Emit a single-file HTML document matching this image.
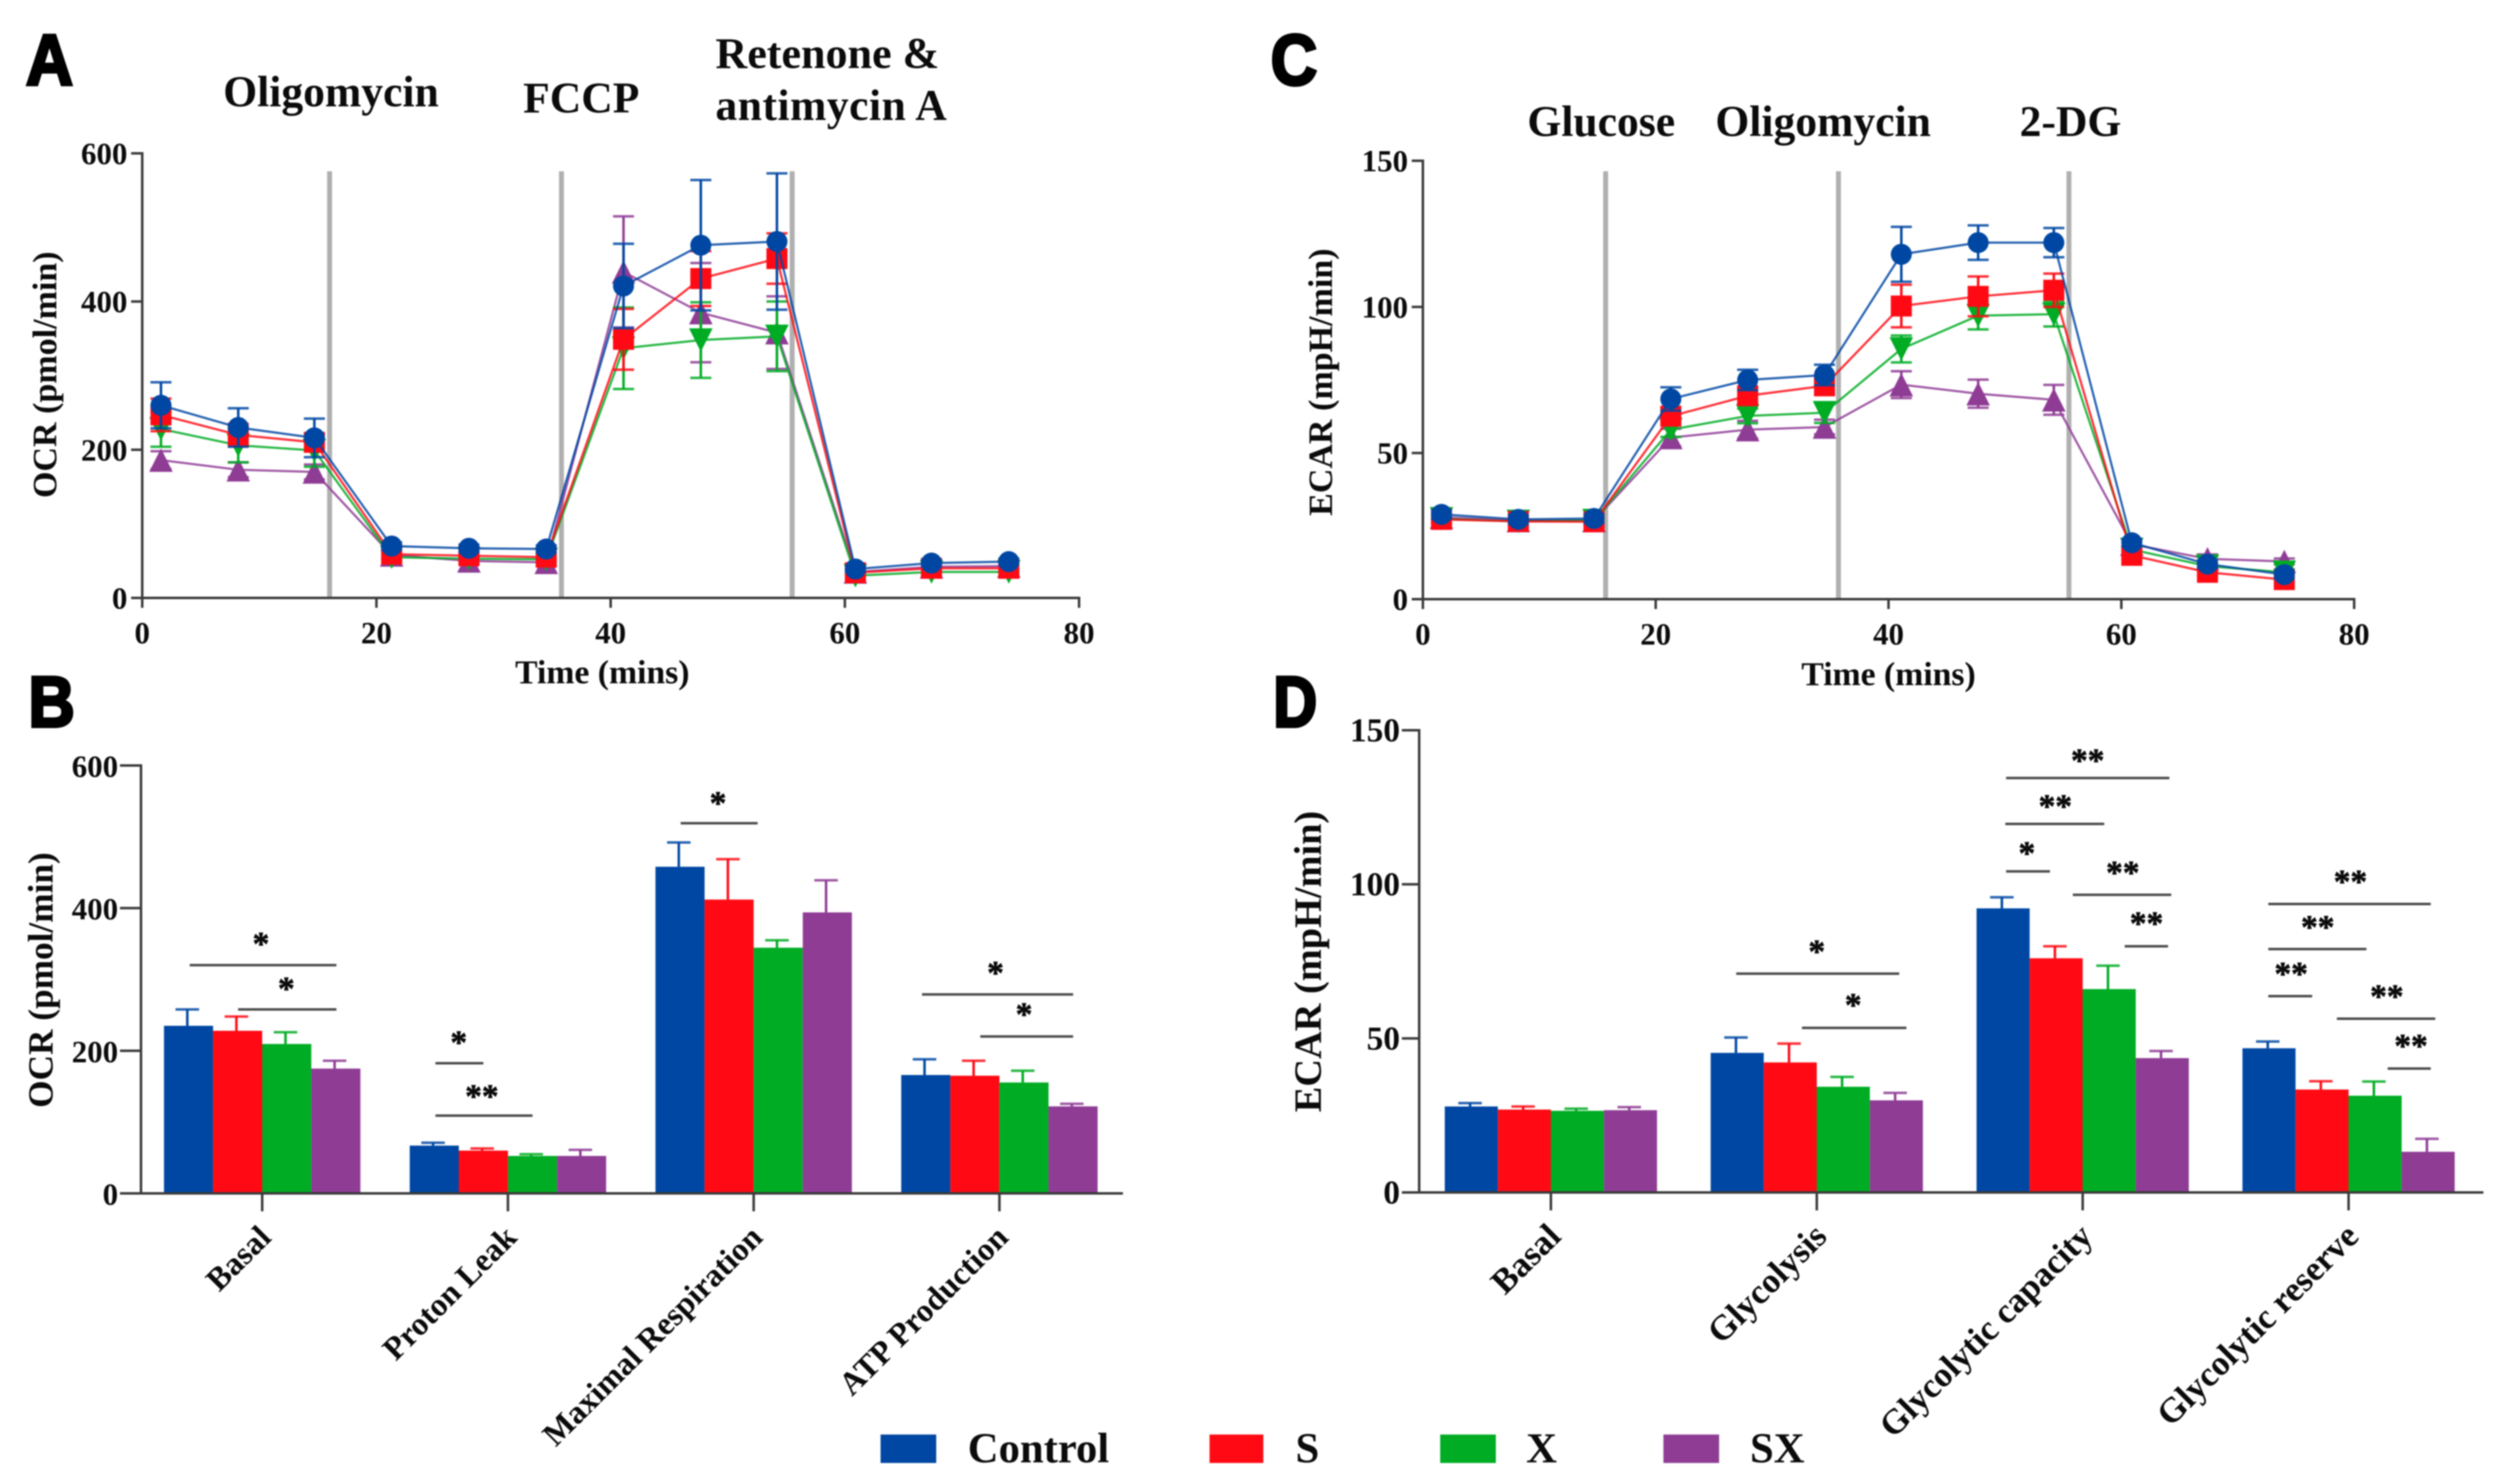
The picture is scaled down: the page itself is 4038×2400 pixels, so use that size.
<!DOCTYPE html>
<html lang="en">
<head>
<meta charset="utf-8">
<title>OCR and ECAR metabolic profiles</title>
<style>
html,body{margin:0;padding:0;background:#fff;width:4038px;height:2400px;overflow:hidden}
svg{display:block;filter:blur(1.1px)}
text{font-family:"Liberation Serif",serif;font-weight:bold;fill:#0b0b0b}
.panel-letter{font-family:"Liberation Sans",sans-serif;font-size:116px;stroke:#000;stroke-width:5px;fill:#000}
.drug{font-size:70.5px}
.tick{font-size:50px}
.tick-lg{font-size:54px}
.axis-title{font-size:54.5px}
.cat{font-size:54px}
.legend-text{font-size:69px}
.star{font-size:54px;stroke:#0b0b0b;stroke-width:1px}
</style>
</head>
<body>
<svg id="figure" xmlns="http://www.w3.org/2000/svg" width="4038" height="2400" viewBox="0 0 4038 2400">
  <rect width="4038" height="2400" fill="#fff"/>

  <text class="panel-letter" x="42" y="137" textLength="76" lengthAdjust="spacingAndGlyphs">A</text>
  <text class="panel-letter" x="46" y="1175" textLength="75" lengthAdjust="spacingAndGlyphs">B</text>
  <text class="panel-letter" x="2055" y="137" textLength="75" lengthAdjust="spacingAndGlyphs">C</text>
  <text class="panel-letter" x="2059" y="1175" textLength="71" lengthAdjust="spacingAndGlyphs">D</text>

  <text class="drug" x="361" y="172">Oligomycin</text>
  <text class="drug" x="846" y="182">FCCP</text>
  <text class="drug" x="1157" y="110" textLength="362" lengthAdjust="spacingAndGlyphs">Retenone &amp;</text>
  <text class="drug" x="1157" y="194" textLength="374" lengthAdjust="spacing">antimycin A</text>
  <text class="drug" x="2470" y="220">Glucose</text>
  <text class="drug" x="2774" y="220">Oligomycin</text>
  <text class="drug" x="3266" y="220">2-DG</text>

  <text class="axis-title" style="font-size:55px" text-anchor="middle" transform="translate(91,606) rotate(-90)">OCR (pmol/min)</text>
  <text class="axis-title" text-anchor="middle" x="974" y="1105">Time (mins)</text>
  <text class="axis-title" style="font-size:55px" text-anchor="middle" transform="translate(2154,618) rotate(-90)">ECAR (mpH/min)</text>
  <text class="axis-title" text-anchor="middle" x="3054" y="1108">Time (mins)</text>
  <text class="axis-title" style="font-size:57px" text-anchor="middle" transform="translate(85,1585) rotate(-90)">OCR (pmol/min)</text>
  <text class="axis-title" style="font-size:62px" text-anchor="middle" transform="translate(2136,1555) rotate(-90)">ECAR (mpH/min)</text>

  <g id="panel-a"></g>
  <g id="panel-c"></g>
  <g id="panel-b"></g>
  <g id="panel-d"></g>

  <g>
    <rect x="1424" y="2320" width="90" height="46" fill="#0047a3"/>
    <text class="legend-text" x="1565" y="2365">Control</text>
    <rect x="1956" y="2320" width="87" height="46" fill="#ff0a14"/>
    <text class="legend-text" x="2095" y="2365">S</text>
    <rect x="2329" y="2320" width="90" height="46" fill="#00ac23"/>
    <text class="legend-text" x="2468" y="2365">X</text>
    <rect x="2690" y="2320" width="90" height="46" fill="#8f3c95"/>
    <text class="legend-text" x="2830" y="2365">SX</text>
  </g>
</svg>

<script>
// ---- shared ticks ----
const timeTicks = [0, 20, 40, 60, 80];
const ocrTicks = [0, 200, 400, 600];
const ecarTicks = [0, 50, 100, 150];
const timeMins = [1.6, 8.2, 14.7, 21.3, 27.9, 34.5, 41.1, 47.7, 54.2, 60.9, 67.4, 74];

// ---- panel A: OCR over time ----
const ocrInjections = [16, 35.8, 55.5];
const ocrControlMean = [260, 230, 216, 70, 67, 66, 421, 476, 481, 39, 47, 49];
const ocrControlErr = [31, 26, 26, 5, 5, 5, 57, 88, 92, 4, 4, 4];
const ocrSMean = [247, 220, 210, 59, 57, 55, 349, 431, 458, 34, 40, 40];
const ocrSErr = [22, 15, 12, 6, 5, 5, 41, 37, 34, 5, 4, 4];
const ocrXMean = [228, 206, 199, 55, 53, 52, 337, 348, 353, 30, 35, 35];
const ocrXErr = [24, 23, 22, 5, 5, 5, 55, 51, 47, 5, 4, 4];
const ocrSXMean = [186, 173, 170, 58, 50, 48, 440, 385, 358, 35, 42, 43];
const ocrSXErr = [12, 10, 10, 5, 5, 5, 75, 67, 49, 4, 4, 4];

// ---- panel C: ECAR over time ----
const ecarInjections = [15.7, 35.7, 55.5];
const ecarControlMean = [29, 27.3, 27.6, 68.5, 75, 76.7, 118, 122, 122, 19.3, 12, 8.4];
const ecarControlErr = [1.5, 1.5, 1.5, 4, 3.5, 3.5, 9.4, 5.9, 5, 1.3, 1.3, 1.3];
const ecarSMean = [27.3, 26.6, 26.5, 62.6, 69.6, 73, 100.3, 103.6, 105.7, 15, 9.2, 6.7];
const ecarSErr = [1.3, 1.3, 1.3, 3, 3, 3, 7.3, 6.8, 5.7, 1.3, 1.3, 1.2];
const ecarXMean = [27.5, 26.6, 26.9, 58, 62.7, 63.8, 85.6, 97, 97.5, 17, 11.3, 9.2];
const ecarXErr = [1, 1, 1, 2.5, 2.5, 3.5, 4.6, 4.7, 4.2, 1, 1, 1];
const ecarSXMean = [28, 26.9, 26.9, 55.3, 58, 58.9, 73.4, 70.3, 68.2, 18.8, 13.8, 12.9];
const ecarSXErr = [1, 1, 1, 3, 3, 2.5, 4.6, 4.8, 5.1, 1, 1.5, 1];

// ---- panel B: OCR parameters ----
const ocrCategories = ['Basal', 'Proton Leak', 'Maximal Respiration', 'ATP Production'];
const ocrBarControl = [235, 67, 458, 166];
const ocrBarS = [228, 60, 412, 165];
const ocrBarX = [209.5, 52.5, 344.5, 155.5];
const ocrBarSX = [175, 52.5, 394, 122];
const ocrTopControl = [258, 71, 492, 188];
const ocrTopS = [248, 63, 468.6, 186];
const ocrTopX = [226, 55, 355, 172];
const ocrTopSX = [186, 61, 439, 125.6];
// significance: from category, to category, value level, star text level, star category, label
const ocrSigFrom = [-0.295, -0.098, 0.705, 0.705, 1.703, 2.685, 2.922];
const ocrSigTo = [0.302, 0.302, 0.9, 1.1, 2.016, 3.3, 3.3];
const ocrSigLevel = [320, 258, 182.5, 109, 519, 279, 220];
const ocrSigStarAt = [-0.005, 0.098, 0.8, 0.894, 1.855, 2.984, 3.1];
const ocrSigStarLevel = [356, 293, 217.5, 142, 553, 315, 257];
const ocrSigLabels = ['*', '*', '*', '**', '*', '*', '*'];

// ---- panel D: ECAR parameters ----
const ecarCategories = ['Basal', 'Glycolysis', 'Glycolytic capacity', 'Glycolytic reserve'];
const ecarBarControl = [27.9, 45.3, 92.2, 46.8];
const ecarBarS = [26.9, 42.2, 76, 33.4];
const ecarBarX = [26.5, 34.3, 66, 31.4];
const ecarBarSX = [26.7, 29.9, 43.6, 13.2];
const ecarTopControl = [29, 50.3, 95.8, 49];
const ecarTopS = [27.9, 48.3, 79.9, 36.1];
const ecarTopX = [27.2, 37.5, 73.6, 36];
const ecarTopSX = [27.7, 32.3, 45.9, 17.4];
const ecarSigFrom = [0.697, 0.944, 1.712, 1.709, 1.712, 1.963, 2.158, 2.698, 2.698, 2.698, 2.956, 3.147];
const ecarSigTo = [1.31, 1.337, 2.326, 2.081, 1.877, 2.333, 2.321, 3.309, 3.067, 2.863, 3.326, 3.309];
const ecarSigLevel = [71, 53.4, 134.5, 119.6, 104.2, 96.6, 79.9, 93.6, 79, 63.7, 56.4, 40.2];
const ecarSigStarAt = [1, 1.137, 2.019, 1.897, 1.79, 2.151, 2.24, 3.007, 2.884, 2.784, 3.144, 3.235];
const ecarSigStarLevel = [79.6, 62.2, 141.6, 126.7, 111.5, 105.2, 88.7, 102.2, 87.5, 72.3, 65, 49];
const ecarSigLabels = ['*', '*', '**', '**', '*', '**', '**', '**', '**', '**', '**', '**'];

const groupColor = { control: '#0047a3', s: '#ff0a14', x: '#00ac23', sx: '#8f3c95' };
const axisColor = '#3a3a3a';
const SVGNS = 'http://www.w3.org/2000/svg';

function mk(parent, tag, attrs, txt) {
  const el = document.createElementNS(SVGNS, tag);
  for (const k in attrs) el.setAttribute(k, attrs[k]);
  if (txt !== undefined) el.textContent = txt;
  parent.appendChild(el);
  return el;
}
function linear(d0, d1, r0, r1) {
  return function (v) { return r0 + (v - d0) * (r1 - r0) / (d1 - d0); };
}

function drawYAxis(g, ticks, y, axisX, tickX, labelX, labelClass, labelDy) {
  const top = y(ticks[ticks.length - 1]);
  const bottom = y(ticks[0]);
  const line = mk(g, 'line', { x1: axisX, x2: axisX, y1: top - 2, y2: bottom + 2, stroke: axisColor, 'stroke-width': 4 });
  
  
  ticks.forEach(function (t) {
    const mark = mk(g, 'line', { x1: tickX, x2: axisX, y1: y(t), y2: y(t), stroke: axisColor, 'stroke-width': 4 });
    
    
    const lab = mk(g, 'text', { class: labelClass, x: labelX, y: y(t) + labelDy, 'text-anchor': 'end' }, String(t));
    
    
  });
}

function drawMarker(g, shape, cx, cy, color) {
  const s = 17;
  const t = 19;
  let m;
  if (shape === 'circle') {
    m = mk(g, 'circle', { cx: cx, cy: cy, r: s, fill: color });
  } else if (shape === 'square') {
    m = mk(g, 'rect', { x: cx - s, y: cy - s, width: 2 * s, height: 2 * s, fill: color });
  } else if (shape === 'up') {
    m = mk(g, 'polygon', { points: (cx - t) + ',' + (cy + t) + ' ' + (cx + t) + ',' + (cy + t) + ' ' + cx + ',' + (cy - t), fill: color });
  } else {
    m = mk(g, 'polygon', { points: (cx - t) + ',' + (cy - t) + ' ' + (cx + t) + ',' + (cy - t) + ' ' + cx + ',' + (cy + t), fill: color });
  }
  
  
}

function drawLineChart(root, cfg) {
  const x = linear(0, 80, cfg.x0, cfg.x80);
  const y = linear(cfg.yTicks[0], cfg.yTicks[cfg.yTicks.length - 1], cfg.y0, cfg.yTop);

  cfg.injections.forEach(function (t) {
    const v = mk(root, 'line', { x1: x(t), x2: x(t), y1: cfg.injTop, y2: cfg.y0, stroke: '#b0b0b0', 'stroke-width': 8 });
    
    
  });

  cfg.series.forEach(function (s) {
    const g = mk(root, 'g', {});
    
    
    s.errors.forEach(function (e, i) {
      const cx = x(timeMins[i]);
      const up = y(s.values[i] + e);
      const lo = y(s.values[i] - e);
      const stem = mk(g, 'line', { x1: cx, x2: cx, y1: up, y2: lo, stroke: s.color, 'stroke-width': 4 });
      
      
      [up, lo].forEach(function (cy) {
        const cap = mk(g, 'line', { x1: cx - 17, x2: cx + 17, y1: cy, y2: cy, stroke: s.color, 'stroke-width': 4, opacity: 0.85 });
        
        
      });
    });
    const pts = s.values.map(function (v, i) { return x(timeMins[i]) + ',' + y(v); }).join(' ');
    const path = mk(g, 'polyline', { points: pts, fill: 'none', stroke: s.color, 'stroke-width': 3.5, opacity: 0.85 });
    
    
    s.values.forEach(function (v, i) {
      drawMarker(g, s.shape, x(timeMins[i]), y(v), s.color);
    });
  });

  const xLine = mk(root, 'line', { x1: cfg.x0 - 2, x2: cfg.x80 + 2, y1: cfg.y0, y2: cfg.y0, stroke: axisColor, 'stroke-width': 4 });
  
  
  timeTicks.forEach(function (t) {
    const mark = mk(root, 'line', { x1: x(t), x2: x(t), y1: cfg.y0, y2: cfg.y0 + 16, stroke: axisColor, 'stroke-width': 4 });
    
    
    const lab = mk(root, 'text', { class: 'tick', x: x(t), y: cfg.y0 + 73, 'text-anchor': 'middle' }, String(t));
    
    
  });
  drawYAxis(root, cfg.yTicks, y, cfg.x0, cfg.x0 - 18, cfg.x0 - 24, 'tick', 17);
}

function drawBarChart(root, cfg) {
  const cat = linear(0, 1, cfg.cat0, cfg.cat0 + cfg.catStep);
  const y = linear(cfg.yTicks[0], cfg.yTicks[cfg.yTicks.length - 1], cfg.y0, cfg.yTop);
  const w = cfg.barW;

  cfg.series.forEach(function (s, si) {
    s.values.forEach(function (v, c) {
      const left = cat(c) + (si - 2) * w;
      const cx = left + w / 2 - 2;
      const stem = mk(root, 'line', { x1: cx, x2: cx, y1: y(v), y2: y(s.tops[c]), stroke: s.color, 'stroke-width': 4 });
      
      
      const cap = mk(root, 'line', { x1: cx - 19, x2: cx + 19, y1: y(s.tops[c]), y2: y(s.tops[c]), stroke: s.color, 'stroke-width': 4, opacity: 0.85 });
      
      
      const bar = mk(root, 'rect', { x: left, y: y(v), width: w, height: y(0) - y(v), fill: s.color });
      
      
    });
  });

  const xLine = mk(root, 'line', { x1: cfg.axisLeft, x2: cfg.axisRight, y1: cfg.y0, y2: cfg.y0, stroke: axisColor, 'stroke-width': 4 });
  
  
  cfg.categories.forEach(function (name, c) {
    const mark = mk(root, 'line', { x1: cat(c), x2: cat(c), y1: cfg.y0, y2: cfg.y0 + 29, stroke: axisColor, 'stroke-width': 4 });
    
    
    const lab = mk(root, 'text', {
      class: 'cat', 'text-anchor': 'end',
      style: 'font-size:' + cfg.catFont + 'px',
      transform: 'translate(' + (cat(c) + cfg.catDx) + ',' + (cfg.y0 + 74) + ') rotate(-45)'
    }, name);
    
    
  });
  drawYAxis(root, cfg.yTicks, y, cfg.yAxisX, cfg.axisLeft, cfg.axisLeft - 3, cfg.tickClass, 18);

  cfg.sigLabels.forEach(function (label, i) {
    const line = mk(root, 'line', { x1: cat(cfg.sigFrom[i]), x2: cat(cfg.sigTo[i]), y1: y(cfg.sigLevel[i]), y2: y(cfg.sigLevel[i]), stroke: '#4a4a4a', 'stroke-width': 4 });
    
    
    const star = mk(root, 'text', { class: 'star', x: cat(cfg.sigStarAt[i]), y: y(cfg.sigStarLevel[i]) + 25, 'text-anchor': 'middle' }, label);
    
    
  });
}

drawLineChart(document.getElementById('panel-a'), {
  x0: 230, x80: 1745, y0: 967, yTop: 248, injTop: 277,
  yTicks: ocrTicks, injections: ocrInjections,
  series: [
    { color: groupColor.sx, shape: 'up', values: ocrSXMean, errors: ocrSXErr },
    { color: groupColor.x, shape: 'down', values: ocrXMean, errors: ocrXErr },
    { color: groupColor.s, shape: 'square', values: ocrSMean, errors: ocrSErr },
    { color: groupColor.control, shape: 'circle', values: ocrControlMean, errors: ocrControlErr }
  ]
});
drawLineChart(document.getElementById('panel-c'), {
  x0: 2301, x80: 3807, y0: 969, yTop: 260, injTop: 277,
  yTicks: ecarTicks, injections: ecarInjections,
  series: [
    { color: groupColor.sx, shape: 'up', values: ecarSXMean, errors: ecarSXErr },
    { color: groupColor.x, shape: 'down', values: ecarXMean, errors: ecarXErr },
    { color: groupColor.s, shape: 'square', values: ecarSMean, errors: ecarSErr },
    { color: groupColor.control, shape: 'circle', values: ecarControlMean, errors: ecarControlErr }
  ]
});
drawBarChart(document.getElementById('panel-b'), {
  cat0: 424, catStep: 397.4, barW: 79.4, y0: 1930, yTop: 1238, yAxisX: 228, axisLeft: 194, axisRight: 1816,
  yTicks: ocrTicks, categories: ocrCategories, catFont: 52.5, catDx: 17, tickClass: 'tick',
  series: [
    { color: groupColor.control, values: ocrBarControl, tops: ocrTopControl },
    { color: groupColor.s, values: ocrBarS, tops: ocrTopS },
    { color: groupColor.x, values: ocrBarX, tops: ocrTopX },
    { color: groupColor.sx, values: ocrBarSX, tops: ocrTopSX }
  ],
  sigFrom: ocrSigFrom, sigTo: ocrSigTo, sigLevel: ocrSigLevel,
  sigStarAt: ocrSigStarAt, sigStarLevel: ocrSigStarLevel, sigLabels: ocrSigLabels
});
drawBarChart(document.getElementById('panel-d'), {
  cat0: 2508, catStep: 430, barW: 85.8, y0: 1928.5, yTop: 1181, yAxisX: 2295, axisLeft: 2267, axisRight: 4016,
  yTicks: ecarTicks, categories: ecarCategories, catFont: 56.5, catDx: 19, tickClass: 'tick-lg',
  series: [
    { color: groupColor.control, values: ecarBarControl, tops: ecarTopControl },
    { color: groupColor.s, values: ecarBarS, tops: ecarTopS },
    { color: groupColor.x, values: ecarBarX, tops: ecarTopX },
    { color: groupColor.sx, values: ecarBarSX, tops: ecarTopSX }
  ],
  sigFrom: ecarSigFrom, sigTo: ecarSigTo, sigLevel: ecarSigLevel,
  sigStarAt: ecarSigStarAt, sigStarLevel: ecarSigStarLevel, sigLabels: ecarSigLabels
});
</script>
</body>
</html>
